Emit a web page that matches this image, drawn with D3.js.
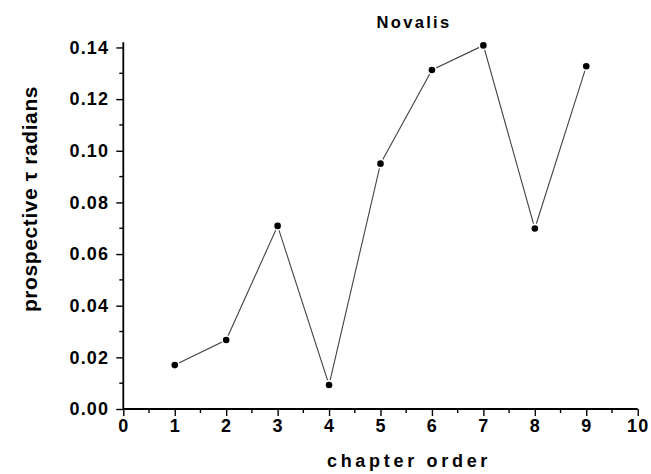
<!DOCTYPE html>
<html>
<head>
<meta charset="utf-8">
<script src="https://cdn.jsdelivr.net/npm/d3@7"></script>
<style>
  body { margin: 0; background: #fff; }
  text { font-family: "Liberation Sans", Arial, sans-serif; font-weight: bold; fill: #000; }
</style>
</head>
<body>
<svg id="chart" width="651" height="474"></svg>
<script>
// chapter order vs prospective tau (Novalis)
var chapters = [1, 2, 3, 4, 5, 6, 7, 8, 9];
var tauValues = [0.0170, 0.0267, 0.0709, 0.0093, 0.0950, 0.1313, 0.1408, 0.0699, 0.1327];
var xTicks = [0, 1, 2, 3, 4, 5, 6, 7, 8, 9, 10];
var yTicks = [0.00, 0.02, 0.04, 0.06, 0.08, 0.10, 0.12, 0.14];

var svg = d3.select("#chart");

var x = d3.scaleLinear().domain([0, 10]).range([123.3, 637.7]);
var y = d3.scaleLinear().domain([0, 0.142]).range([409, 42.3]);

var xMinor = d3.range(0.5, 10, 1);
var yMinor = d3.range(0.01, 0.14, 0.02);

// x axis
var gx = svg.append("g").attr("transform", "translate(0," + y(0) + ")");
gx.call(d3.axisBottom(x).tickValues(xTicks).tickFormat(d3.format("d")).tickSize(7).tickPadding(3));
gx.selectAll(".minor").data(xMinor).enter().append("line")
    .attr("class", "minor")
    .attr("x1", function (d) { return x(d); })
    .attr("x2", function (d) { return x(d); })
    .attr("y1", 0).attr("y2", 4)
    .attr("stroke", "#000").attr("stroke-width", 1.4);

// y axis
var gy = svg.append("g").attr("transform", "translate(" + x(0) + ",0)");
gy.call(d3.axisLeft(y).tickValues(yTicks).tickFormat(d3.format(".2f")).tickSize(7).tickPadding(7));
gy.selectAll(".minor").data(yMinor).enter().append("line")
    .attr("class", "minor")
    .attr("y1", function (d) { return y(d); })
    .attr("y2", function (d) { return y(d); })
    .attr("x1", 0).attr("x2", -4)
    .attr("stroke", "#000").attr("stroke-width", 1.4);

svg.selectAll(".domain").attr("stroke", "#000").attr("stroke-width", 1.8);
svg.selectAll(".tick line").attr("stroke", "#000").attr("stroke-width", 1.4);
svg.selectAll(".tick text")
    .style("font-family", "'Liberation Sans', Arial, sans-serif")
    .style("font-weight", "bold")
    .style("font-size", "18px")
    .style("letter-spacing", "1.2px")
    .attr("fill", "#000");
// plain domain lines, no end caps
gx.select(".domain").attr("d", "M" + x(0) + ",0H" + x(10));
gy.select(".domain").attr("d", "M0," + y(0) + "V" + y(0.142));

// line
var line = d3.line()
    .x(function (d, i) { return x(chapters[i]); })
    .y(function (d) { return y(d); });

svg.append("path")
    .datum(tauValues)
    .attr("d", line)
    .attr("fill", "none")
    .attr("stroke", "#444")
    .attr("stroke-width", 1.1);

svg.selectAll(".dot").data(tauValues).enter().append("circle")
    .attr("class", "dot")
    .attr("cx", function (d, i) { return x(chapters[i]); })
    .attr("cy", function (d) { return y(d); })
    .attr("r", 4.1)
    .attr("fill", "#000")
    .attr("stroke", "#fff")
    .attr("stroke-width", 1.6);

// title
svg.append("text")
    .attr("x", 414)
    .attr("y", 28.3)
    .attr("text-anchor", "middle")
    .style("font-size", "16.5px")
    .style("letter-spacing", "2.3px")
    .text("Novalis");

// axis titles
svg.append("text")
    .attr("x", 409)
    .attr("y", 466.7)
    .attr("text-anchor", "middle")
    .style("font-size", "18px")
    .style("letter-spacing", "3.7px")
    .text("chapter order");

svg.append("text")
    .attr("transform", "translate(37,199) rotate(-90)")
    .attr("text-anchor", "middle")
    .style("font-size", "21px")
    .style("letter-spacing", "0.6px")
    .text("prospective τ radians");
</script>
</body>
</html>
